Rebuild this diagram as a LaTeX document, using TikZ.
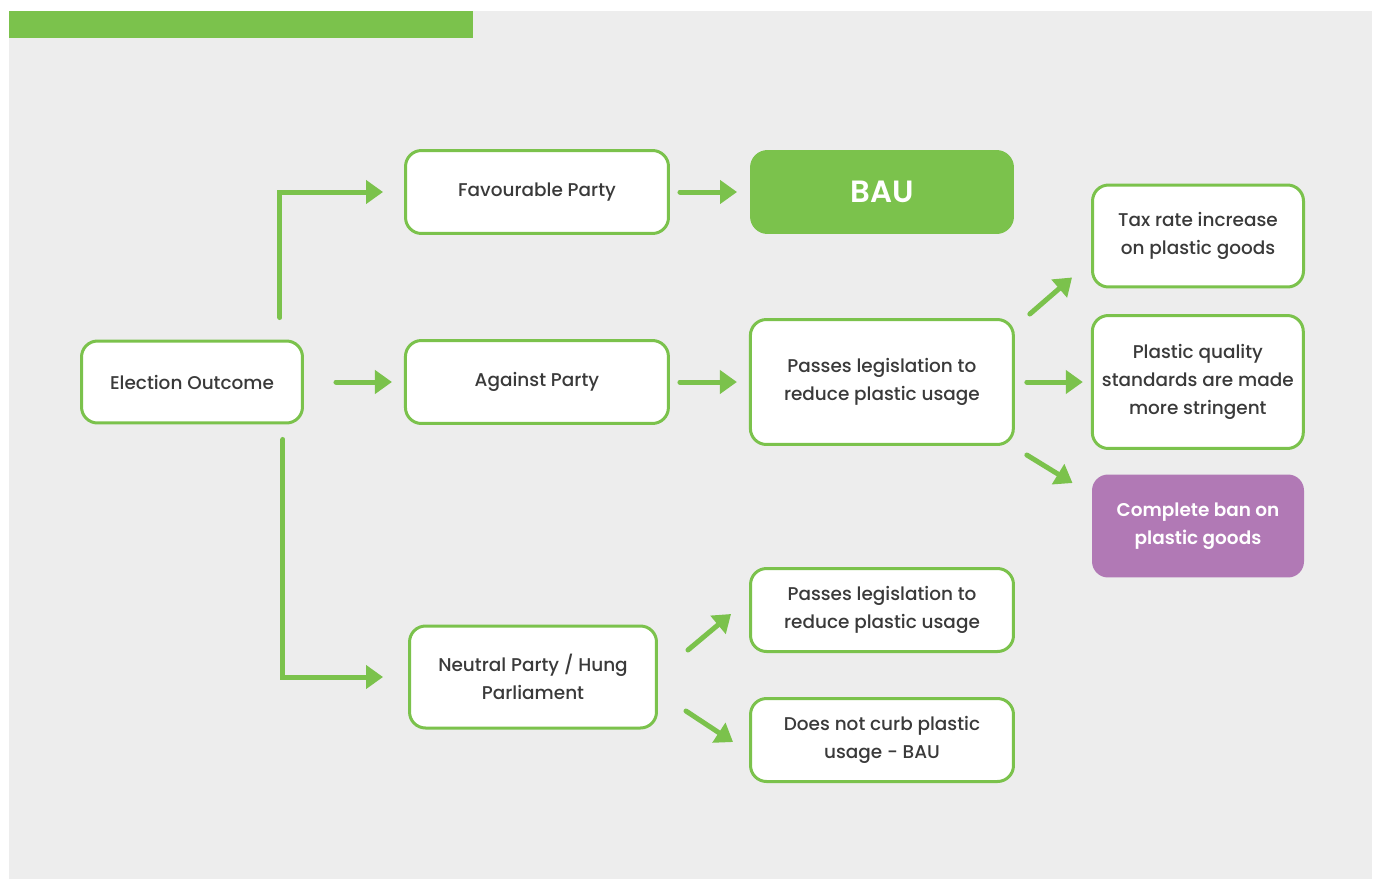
\documentclass[tikz,border=0pt]{standalone}
\usepackage{fontspec}
\setmainfont{Poppins}[UprightFont={* Medium},BoldFont={* SemiBold}]
\usetikzlibrary{arrows.meta,calc}
\definecolor{leaf}{HTML}{7BC24C}
\definecolor{paper}{HTML}{EDEDED}
\definecolor{plum}{HTML}{B179B5}
\definecolor{ink}{HTML}{3A3A3A}
\begin{document}
\begin{tikzpicture}[x=0.02cm,y=-0.02cm,node distance=6.9cm,
    box/.style={rectangle,rounded corners=0.32cm,draw=leaf,line width=0.06cm,fill=white,text=ink,align=center,inner sep=0pt,font=\fontsize{10.5}{15.9}\selectfont},
    arr/.style={draw=leaf,line width=0.1cm,line cap=round,-{Triangle[length=0.34cm,width=0.46cm]}}]
                \useasboundingbox (0,0) rectangle (1378,879);
                \fill [paper] (9,11) rectangle (1372,879);
                \fill [leaf] (9,11) rectangle (473,38);
                \node [box,minimum width=4.42cm,minimum height=1.64cm] (eo) at (192,382) {Election Outcome};
                \node [box,minimum width=5.26cm,minimum height=1.66cm] (ap) [right of=eo] {Against Party};
                \node [box,minimum width=5.26cm,minimum height=2.5cm] (pl) [right of=ap] {Passes legislation to\\reduce plastic usage};
                \node [box,minimum width=4.22cm,minimum height=2.66cm] (psq) [right of=pl,node distance=6.32cm] {Plastic quality\\standards are made\\more stringent};
                \node [box,minimum width=5.26cm,minimum height=1.66cm] (fp) at (537,192) {Favourable Party};
                \node [box,fill=leaf,minimum width=5.22cm,minimum height=1.62cm,text=white,font=\fontsize{17.5}{20}\selectfont\bfseries] (bau) at (882,192) {BAU};
                \node [box,minimum width=4.22cm,minimum height=2.04cm] (tax) at (1198,236) {Tax rate increase\\on plastic goods};
                \node [box,draw=none,fill=plum,minimum width=4.24cm,minimum height=2.06cm,text=white,font=\fontsize{10.5}{15.9}\selectfont\bfseries] (ban) at (1198,526) {Complete ban on\\plastic goods};
                \node [box,minimum width=4.94cm,minimum height=2.04cm] (np) at (533,677) {Neutral Party / Hung\\Parliament};
                \node [box,minimum width=5.26cm,minimum height=1.66cm] (pl2) at (882,610) {Passes legislation to\\reduce plastic usage};
                \node [box,minimum width=5.26cm,minimum height=1.66cm] (dn) at (882,740) {Does not curb plastic\\usage - BAU};
                \draw [arr,shorten <=0.44cm,shorten >=0.42cm] ([xshift=1.76cm]eo.north) |- (fp.west);
                \draw [arr,shorten <=0.3cm,shorten >=0.5cm] ([xshift=1.82cm]eo.south) |- (np.west);
                \draw [arr,shorten <=0.64cm,shorten >=0.24cm] (eo) -- (ap);
                \draw [arr,shorten <=0.2cm,shorten >=0.26cm] (fp) -- (bau);
                \draw [arr,shorten <=0.2cm,shorten >=0.24cm] (ap) -- (pl);
                \draw [arr,shorten <=0.24cm,shorten >=0.16cm] (pl) -- (psq);
                \draw [arr] ($(pl.north east)+(15,-4)$) -- ($(tax.south west)+(-19,-11)$);
                \draw [arr] ($(pl.south east)+(12,9)$) -- ($(ban.north west)+(-18,10)$);
                \draw [arr] ($(np.east)+(30,-27)$) -- ($(pl2.west)+(-18,4)$);
                \draw [arr] ($(np.east)+(28,34)$) -- ($(dn.west)+(-16,2)$);
            \end{tikzpicture}
\end{document}
